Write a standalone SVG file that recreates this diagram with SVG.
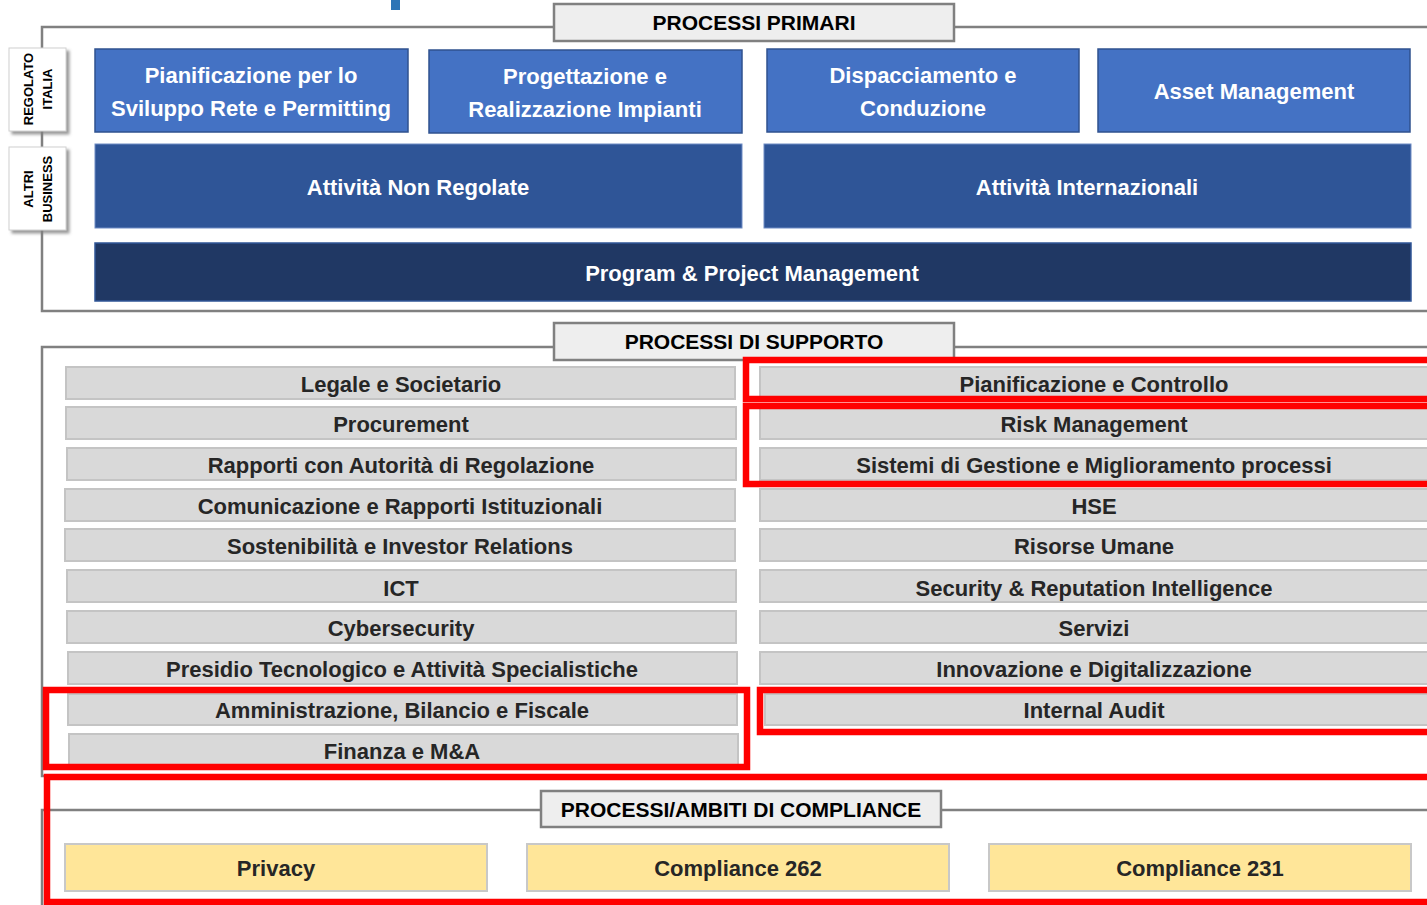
<svg xmlns="http://www.w3.org/2000/svg" width="1427" height="905" viewBox="0 0 1427 905">
<defs>
<filter id="sh" x="-20%" y="-20%" width="150%" height="150%">
<feDropShadow dx="3" dy="3" stdDeviation="1.5" flood-color="#808080" flood-opacity="0.8"/>
</filter>
<style>
text{font-family:"Liberation Sans",Arial,sans-serif;font-weight:bold;text-anchor:middle}
.frame{fill:none;stroke:#808080;stroke-width:2.5}
.title rect{fill:#eeeeee;stroke:#808080;stroke-width:2.5}
.title text{font-size:21px;fill:#000}
.b1 rect{fill:#4472c4;stroke:#2f528f;stroke-width:1.5}
.b2 rect{fill:#2f5597;stroke:#6f8cc4;stroke-width:1}
.b3 rect{fill:#203864;stroke:#2f5597;stroke-width:1.5}
.b1 text,.b2 text,.b3 text{font-size:22px;fill:#fff}
.g rect{fill:#d9d9d9;stroke:#c4c4c4;stroke-width:2}
.g text{font-size:22px;fill:#262626}
.y rect{fill:#ffe699;stroke:#c8c8c8;stroke-width:2}
.y text{font-size:22px;fill:#262626}
.tab rect{fill:#fff;stroke:#d0d0d0;stroke-width:1;filter:url(#sh)}
.tab text{font-size:13px;fill:#000}
.red{fill:none;stroke:#ff0000;stroke-width:6.5}
</style>
</defs>
<rect x="391" y="0" width="9" height="10" fill="#2e75b6"/>
<g id="frames">
<rect class="frame" x="42" y="27" width="1400" height="284"/>
<rect class="frame" x="42" y="347" width="1400" height="429"/>
<rect class="frame" x="42" y="810" width="1400" height="200"/>
</g>
<g id="title-primari" class="title"><rect x="554" y="4" width="400" height="37"/><text x="754" y="30">PROCESSI PRIMARI</text></g>
<g id="tab-regolato" class="tab"><rect x="9" y="48" width="57" height="83"/><text transform="translate(33,89) rotate(-90)">REGOLATO</text><text transform="translate(52,89) rotate(-90)">ITALIA</text></g>
<g id="tab-altri" class="tab"><rect x="9" y="147" width="57" height="83"/><text transform="translate(33,189) rotate(-90)">ALTRI</text><text transform="translate(52,189) rotate(-90)">BUSINESS</text></g>
<g id="n-pianificazione-rete" class="b1"><rect x="95" y="49" width="313" height="83"/><text x="251" y="83">Pianificazione per lo</text><text x="251" y="116">Sviluppo Rete e Permitting</text></g>
<g id="n-progettazione" class="b1"><rect x="429" y="50" width="313" height="83"/><text x="585" y="84">Progettazione e</text><text x="585" y="117">Realizzazione Impianti</text></g>
<g id="n-dispacciamento" class="b1"><rect x="767" y="49" width="312" height="83"/><text x="923" y="83">Dispacciamento e</text><text x="923" y="116">Conduzione</text></g>
<g id="n-asset" class="b1"><rect x="1098" y="49" width="312" height="83"/><text x="1254" y="99">Asset Management</text></g>
<g id="n-non-regolate" class="b2"><rect x="95" y="144" width="647" height="84"/><text x="418" y="195">Attività Non Regolate</text></g>
<g id="n-internazionali" class="b2"><rect x="764" y="144" width="647" height="84"/><text x="1087" y="195">Attività Internazionali</text></g>
<g id="n-program" class="b3"><rect x="95" y="243" width="1316" height="58"/><text x="752" y="281">Program &amp; Project Management</text></g>
<g id="title-supporto" class="title"><rect x="554" y="323" width="400" height="37"/><text x="754" y="349">PROCESSI DI SUPPORTO</text></g>
<g id="n-legale" class="g"><rect x="66" y="367" width="669" height="32"/><text x="401" y="392">Legale e Societario</text></g>
<g id="n-procurement" class="g"><rect x="66" y="407" width="670" height="32"/><text x="401" y="432">Procurement</text></g>
<g id="n-rapporti" class="g"><rect x="67" y="448" width="669" height="32"/><text x="401" y="473">Rapporti con Autorità di Regolazione</text></g>
<g id="n-comunicazione" class="g"><rect x="65" y="489" width="670" height="32"/><text x="400" y="514">Comunicazione e Rapporti Istituzionali</text></g>
<g id="n-sostenibilita" class="g"><rect x="65" y="529" width="670" height="32"/><text x="400" y="554">Sostenibilità e Investor Relations</text></g>
<g id="n-ict" class="g"><rect x="67" y="570" width="669" height="32"/><text x="401" y="596">ICT</text></g>
<g id="n-cyber" class="g"><rect x="67" y="611" width="669" height="32"/><text x="401" y="636">Cybersecurity</text></g>
<g id="n-presidio" class="g"><rect x="68" y="652" width="669" height="32"/><text x="402" y="677">Presidio Tecnologico e Attività Specialistiche</text></g>
<g id="n-amministrazione" class="g"><rect x="68" y="694" width="669" height="31"/><text x="402" y="718">Amministrazione, Bilancio e Fiscale</text></g>
<g id="n-finanza" class="g"><rect x="69" y="734" width="669" height="31"/><text x="402" y="759">Finanza e M&amp;A</text></g>
<g id="n-pianificazione-controllo" class="g"><rect x="760" y="367" width="670" height="31"/><text x="1094" y="392">Pianificazione e Controllo</text></g>
<g id="n-risk" class="g"><rect x="760" y="407" width="670" height="32"/><text x="1094" y="432">Risk Management</text></g>
<g id="n-sistemi" class="g"><rect x="760" y="448" width="670" height="32"/><text x="1094" y="473">Sistemi di Gestione e Miglioramento processi</text></g>
<g id="n-hse" class="g"><rect x="760" y="489" width="670" height="32"/><text x="1094" y="514">HSE</text></g>
<g id="n-risorse" class="g"><rect x="760" y="529" width="670" height="32"/><text x="1094" y="554">Risorse Umane</text></g>
<g id="n-security" class="g"><rect x="760" y="570" width="670" height="32"/><text x="1094" y="596">Security &amp; Reputation Intelligence</text></g>
<g id="n-servizi" class="g"><rect x="760" y="611" width="670" height="32"/><text x="1094" y="636">Servizi</text></g>
<g id="n-innovazione" class="g"><rect x="760" y="652" width="670" height="32"/><text x="1094" y="677">Innovazione e Digitalizzazione</text></g>
<g id="n-audit" class="g"><rect x="765" y="694" width="665" height="31"/><text x="1094" y="718">Internal Audit</text></g>
<g id="title-compliance" class="title"><rect x="541" y="791" width="400" height="36"/><text x="741" y="817">PROCESSI/AMBITI DI COMPLIANCE</text></g>
<g id="n-privacy" class="y"><rect x="65" y="844" width="422" height="47"/><text x="276" y="876">Privacy</text></g>
<g id="n-262" class="y"><rect x="527" y="844" width="422" height="47"/><text x="738" y="876">Compliance 262</text></g>
<g id="n-231" class="y"><rect x="989" y="844" width="422" height="47"/><text x="1200" y="876">Compliance 231</text></g>
<g id="highlights">
<rect class="red" x="746" y="360" width="700" height="39"/>
<rect class="red" x="746" y="406" width="700" height="78"/>
<rect class="red" x="760" y="690" width="700" height="42"/>
<rect class="red" x="46" y="690" width="701" height="77"/>
<rect class="red" x="47" y="777" width="1400" height="125"/>
</g>
</svg>
